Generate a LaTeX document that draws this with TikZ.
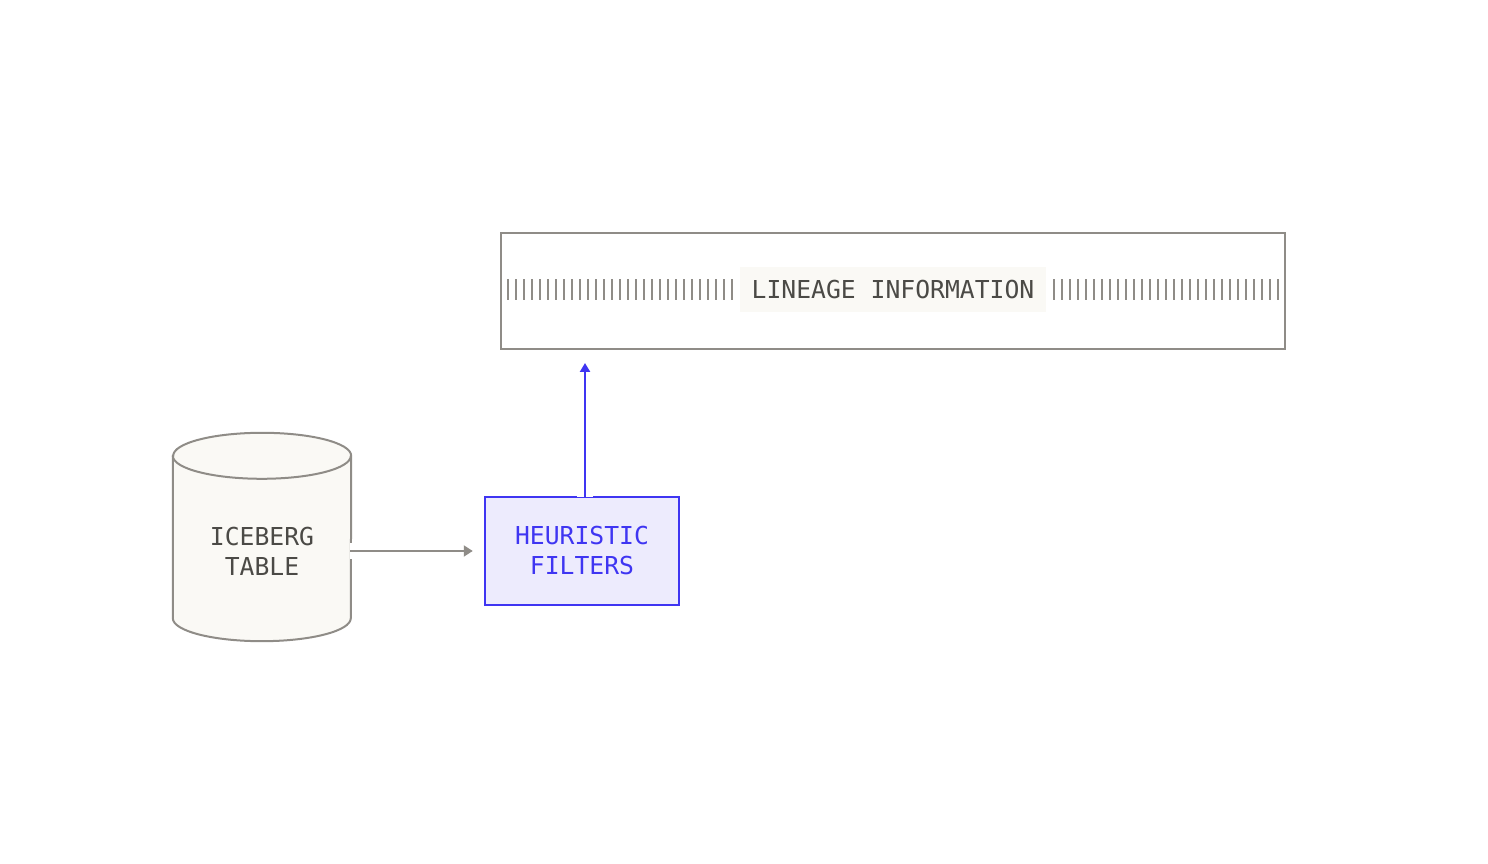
\documentclass[tikz,border=0pt]{standalone}
\usepackage{fontspec}
\setmonofont{DejaVu Sans Mono}
\usetikzlibrary{arrows.meta}

\definecolor{linegray}{HTML}{8F8C87}
\definecolor{textgray}{HTML}{4B4A46}
\definecolor{cream}{HTML}{FAF9F5}
\definecolor{filterblue}{HTML}{3F35F2}
\definecolor{lavender}{HTML}{EDEBFD}

\begin{document}
\begin{tikzpicture}[x=1pt, y=1pt,
    every node/.style={font=\ttfamily\fontsize{24.7}{30}\selectfont, align=center},
    frame/.style={rectangle, draw=linegray, line width=2pt, minimum width=784pt, minimum height=116pt},
    label/.style={rectangle, fill=cream, text=textgray, inner sep=0pt, minimum width=306pt, minimum height=45pt},
    filter/.style={rectangle, draw=filterblue, fill=lavender, text=filterblue, line width=2.5pt, minimum width=194pt, minimum height=108pt},
    tick/.style={draw=linegray, line width=2pt},
    grayarrow/.style={draw=linegray, line width=2pt, -{Triangle[length=9pt, width=11pt]}, preaction={draw=white, line width=16pt, -}},
    bluearrow/.style={draw=filterblue, line width=2.5pt, -{Triangle[length=9pt, width=10pt]}, preaction={draw=white, line width=16pt, -}}]

\useasboundingbox (0,0) rectangle (1488,864);

% lineage box and its label
\node[frame] (lin) at (893,573) {};
\foreach \i in {0,...,28} {
    % ticks on both sides of the label
    \draw[tick] ([xshift={7.7+8.02*\i}, yshift=1.5]lin.west) ++(0,-10.5) -- ++(0,21);
    \draw[tick] ([xshift={-7.7-8.02*\i}, yshift=1.5]lin.east) ++(0,-10.5) -- ++(0,21);
}
\node[label] (info) at ([yshift=1.5]lin.center) {LINEAGE INFORMATION};

% iceberg table as a cylinder
\node[minimum width=178pt, minimum height=208pt, inner sep=0pt] (ice) at (262,327) {};
\filldraw[draw=linegray, fill=cream, line width=2pt]
    ([yshift=-23]ice.north west) -- ([yshift=23]ice.south west)
    arc[start angle=180, end angle=360, x radius=89, y radius=23]
    -- ([yshift=-23]ice.north east)
    arc[start angle=0, end angle=180, x radius=89, y radius=23] -- cycle;
\draw[linegray, line width=2pt] ([yshift=-23]ice.north west)
    arc[start angle=180, end angle=360, x radius=89, y radius=23];
\node[text=textgray] (icetext) at (262,313) {ICEBERG\\TABLE};

% heuristic filters
\node[filter] (hf) at (582,313) {HEURISTIC\\FILTERS};
\coordinate (tip) at (585,501);

% connectors
\draw[grayarrow, shorten >=11pt] ([xshift=-1pt]hf.west -| ice.east) -- (hf.west);
\draw[bluearrow] ([xshift=3pt, yshift=-1.5pt]hf.north) -- (tip);
\end{tikzpicture}
\end{document}
